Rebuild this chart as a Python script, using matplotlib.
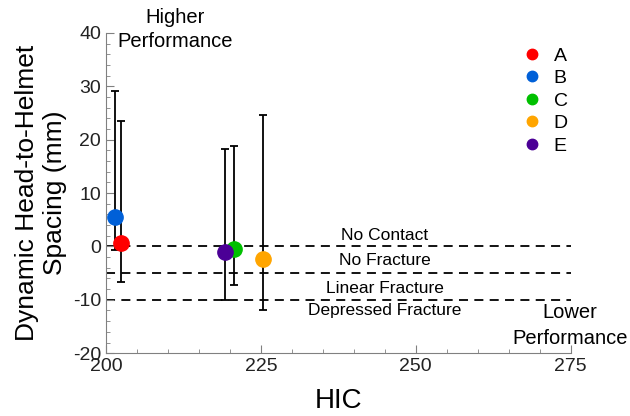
import matplotlib
matplotlib.use("Agg")
import matplotlib.pyplot as plt
from matplotlib.ticker import MultipleLocator

# data
labels = ["A", "B", "C", "D", "E"]
colors = ["#ff0000", "#0060d8", "#00c000", "#ffa500", "#4b0096"]
hic = [202.4, 201.5, 220.7, 225.4, 219.2]
spacing = [0.6, 5.5, -0.4, -2.4, -1.1]
err_top = [23.5, 29.2, 18.9, 24.7, 18.3]
err_bottom = [-6.7, -0.6, -7.2, -12.0, -10.0]

thresholds = [0, -5, -10]
zone_names = ["No Contact", "No Fracture", "Linear Fracture", "Depressed Fracture"]
zone_y = [2.1, -2.6, -7.9, -12.0]

plt.rcParams['font.family'] = ['Liberation Sans', 'DejaVu Sans']
plt.rcParams['axes.unicode_minus'] = False

W, H = 630, 416
fig = plt.figure(figsize=(W / 100, H / 100), dpi=100)
ax = fig.add_axes([0.168, 0.151, 0.738, 0.770])

for y in thresholds:
    ax.axhline(y, color='black', linestyle=(0, (5, 3.5)), linewidth=1.3, zorder=1)

for x, y, lo, hi, c, lab in zip(hic, spacing, err_bottom, err_top, colors, labels):
    ax.errorbar([x], [y], yerr=[[y - lo], [hi - y]], fmt='none', ecolor='black',
                elinewidth=1.3, capsize=3, capthick=1.3, zorder=2)
    ax.plot([x], [y], 'o', color=c, markersize=11, zorder=3)
    ax.plot([], [], 'o', color=c, markersize=7.5, label=lab)

for name, y in zip(zone_names, zone_y):
    ax.text(245, y, name, ha='center', va='center', fontsize=12.5)

ax.text(0.149, 1.01, "Higher\nPerformance", transform=ax.transAxes,
        ha='center', va='center', fontsize=14.5, linespacing=1.3)
fig.text(570 / W, 1 - 312 / H, "Lower", ha='center', va='center', fontsize=14.5)
fig.text(570 / W, 1 - 338 / H, "Performance", ha='center', va='center', fontsize=14.5)

ax.set_xlim(200, 275)
ax.set_ylim(-20, 40)
ax.set_xticks([200, 225, 250, 275])
ax.set_yticks([-20, -10, 0, 10, 20, 30, 40])
ax.xaxis.set_minor_locator(MultipleLocator(5))
ax.yaxis.set_minor_locator(MultipleLocator(2))
ax.tick_params(which='both', direction='in', colors='#808080', labelcolor='#222222',
               labelsize=14)
ax.tick_params(which='major', length=6)
ax.tick_params(which='minor', length=3)
for s in ['top', 'right']:
    ax.spines[s].set_visible(False)
for s in ['left', 'bottom']:
    ax.spines[s].set_color('#808080')

ax.set_xlabel("HIC", fontsize=20)
ax.xaxis.set_label_coords(0.5, -0.11)
ax.set_ylabel("Dynamic Head-to-Helmet\nSpacing (mm)", fontsize=19, labelpad=4)

ax.legend(loc='upper right', bbox_to_anchor=(1.01, 0.98), frameon=False,
          fontsize=14, handletextpad=0.1, labelspacing=0.25, borderaxespad=0)

fig.savefig("out.png", dpi=100)
